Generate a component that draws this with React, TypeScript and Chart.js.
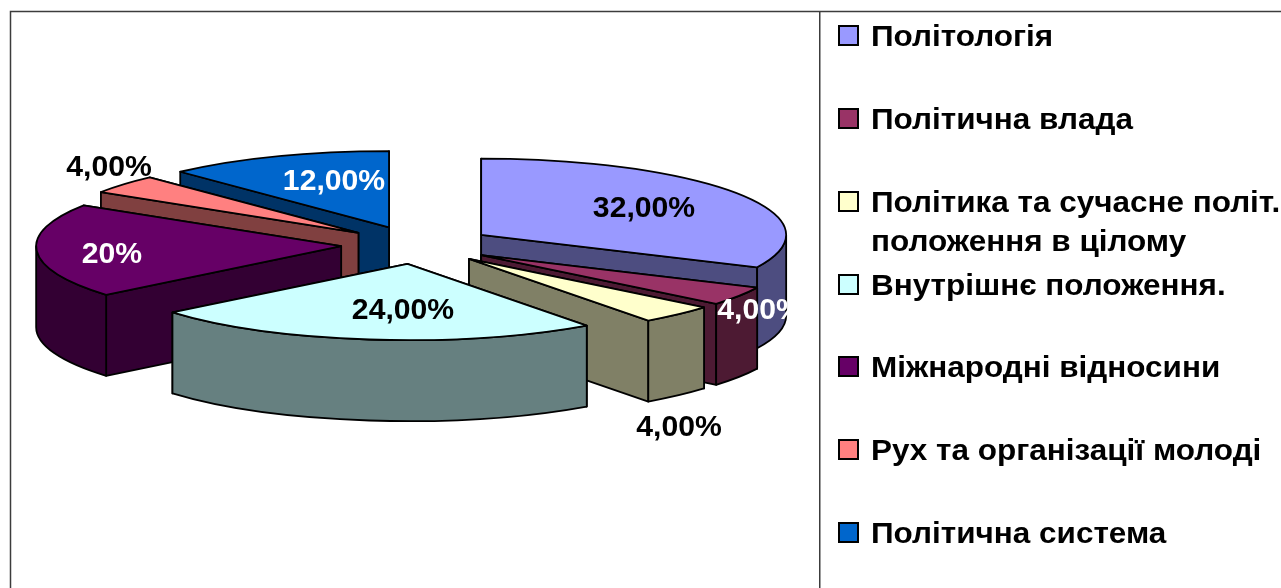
import React, { useEffect, useRef } from "react";
import { Chart, registerables } from "chart.js";

Chart.register(...registerables);

const categories = [
  "Політологія",
  "Політична влада",
  ["Політика та сучасне політ.", "положення в цілому"],
  "Внутрішнє положення.",
  "Міжнародні відносини",
  "Рух та організації молоді",
  "Політична система",
];
const values = [32, 4, 4, 24, 20, 4, 12];
const valueLabels = ["32,00%", "4,00%", "4,00%", "24,00%", "20%", "4,00%", "12,00%"];
const topColors = ["#9999FF", "#993366", "#FFFFCC", "#CCFFFF", "#660066", "#FF8080", "#0066CC"];
const wallColors = ["#4D4D80", "#4D1A33", "#808066", "#668080", "#330033", "#804040", "#003366"];
const labelColors = ["#000", "#fff", "#000", "#000", "#fff", "#000", "#fff"];

const W = 1281;
const H = 588;
const CX = 417;
const CY = 245;
const SQUASH = 0.25;
const RADIUS = 305;
const EXPLODE = 76;
const DEPTH = 81;
const FONT = 'bold 29px "Liberation Sans", Arial, sans-serif';
const LEGEND_STRETCH = 1.085;
const LABEL_STRETCH = 1.04;
const LABEL_CENTERS = [
  [644, 209],
  [760, 311],
  [679, 428],
  [403, 311],
  [112, 255],
  [109, 168],
  [334, 182],
];
const LABEL_CLIP_RIGHT = 789;

function stretchedText(ctx: any, text: string, x: number, y: number, sx: number) {
  ctx.save();
  ctx.translate(x, y);
  ctx.scale(sx, 1);
  ctx.fillText(text, 0, 0);
  ctx.restore();
}

const pie3d = {
  id: "pie3d",
  beforeDraw(chart: any) {
    const ctx = chart.ctx;
    ctx.save();
    ctx.fillStyle = "#fff";
    ctx.fillRect(0, 0, W, H);
    ctx.strokeStyle = "#3c3c3c";
    ctx.lineWidth = 1.5;
    ctx.beginPath();
    ctx.moveTo(10.5, H);
    ctx.lineTo(10.5, 11.5);
    ctx.lineTo(W, 11.5);
    ctx.moveTo(819.75, 11.5);
    ctx.lineTo(819.75, H);
    ctx.stroke();
    ctx.restore();
  },
  beforeDatasetsDraw(chart: any) {
    const ctx = chart.ctx;
    const arcs: any[] = chart.getDatasetMeta(0).data;
    const geo = arcs.map((arc, i) => {
      const mid = (arc.startAngle + arc.endAngle) / 2;
      const ax = CX + Math.cos(mid) * EXPLODE;
      const ay = CY + Math.sin(mid) * EXPLODE * SQUASH;
      return { arc, i, ax, ay, r: arc.outerRadius };
    });
    const order = [...geo].sort((a, b) => a.ay - b.ay);
    ctx.save();
    ctx.lineJoin = "round";
    ctx.strokeStyle = "#000";
    ctx.lineWidth = 1.8;
    for (const g of order) {
      const { arc, i, ax, ay, r } = g;
      const pt = (a: number) => [ax + r * Math.cos(a), ay + r * Math.sin(a) * SQUASH];
      ctx.fillStyle = wallColors[i];
      // radial faces, the one further back first
      const faces = [arc.startAngle, arc.endAngle].sort((p: number, q: number) => pt(p)[1] - pt(q)[1]);
      for (const a of faces) {
        const [px, py] = pt(a);
        ctx.beginPath();
        ctx.moveTo(ax, ay);
        ctx.lineTo(px, py);
        ctx.lineTo(px, py + DEPTH);
        ctx.lineTo(ax, ay + DEPTH);
        ctx.closePath();
        ctx.fill();
        ctx.stroke();
      }
      const a0 = Math.max(arc.startAngle, 0);
      const a1 = Math.min(arc.endAngle, Math.PI);
      if (a1 > a0) {
        ctx.beginPath();
        ctx.ellipse(ax, ay, r, r * SQUASH, 0, a0, a1);
        ctx.ellipse(ax, ay + DEPTH, r, r * SQUASH, 0, a1, a0, true);
        ctx.closePath();
        ctx.fill();
        ctx.stroke();
      }
      // top face, drawn by the library's own arc element
      ctx.save();
      ctx.translate(ax, ay);
      ctx.scale(1, SQUASH);
      ctx.translate(-arc.x, -arc.y);
      arc.draw(ctx);
      ctx.restore();
      // outline of the top face
      ctx.beginPath();
      ctx.moveTo(ax, ay);
      ctx.ellipse(ax, ay, r, r * SQUASH, 0, arc.startAngle, arc.endAngle);
      ctx.closePath();
      ctx.stroke();
    }
    ctx.restore();
    return false;
  },
  afterDraw(chart: any) {
    const ctx = chart.ctx;
    ctx.save();
    ctx.font = FONT;
    ctx.textBaseline = "middle";
    // value labels
    ctx.textAlign = "center";
    valueLabels.forEach((t, i) => {
      ctx.save();
      ctx.beginPath();
      ctx.rect(0, 0, LABEL_CLIP_RIGHT, H);
      ctx.clip();
      ctx.fillStyle = labelColors[i];
      stretchedText(ctx, t, LABEL_CENTERS[i][0], LABEL_CENTERS[i][1], LABEL_STRETCH);
      ctx.restore();
    });
    // legend
    ctx.textAlign = "left";
    const rowCenters = [36, 119, 202, 285, 367, 450, 533];
    categories.forEach((c, i) => {
      const y = rowCenters[i];
      ctx.fillStyle = topColors[i];
      ctx.strokeStyle = "#000";
      ctx.lineWidth = 2;
      ctx.fillRect(839, y - 10, 19, 19);
      ctx.strokeRect(839, y - 10, 19, 19);
      ctx.fillStyle = "#000";
      const lines = Array.isArray(c) ? c : [c];
      lines.forEach((l, k) => stretchedText(ctx, l, 871, y + 2 + k * 39, LEGEND_STRETCH));
    });
    ctx.restore();
  },
};

export default function App() {
  const ref = useRef<HTMLCanvasElement>(null);
  useEffect(() => {
    const chart = new Chart(ref.current!, {
      type: "pie",
      data: {
        labels: categories.map((c) => (Array.isArray(c) ? c.join(" ") : c)),
        datasets: [
          {
            data: values,
            backgroundColor: topColors,
            borderWidth: 0,
            radius: RADIUS,
          } as any,
        ],
      },
      options: {
        responsive: false,
        animation: false,
        devicePixelRatio: 1,
        layout: { padding: 0 },
        events: [],
        plugins: { legend: { display: false }, tooltip: { enabled: false } },
      },
      plugins: [pie3d as any],
    });
    return () => chart.destroy();
  }, []);
  return (
    <div style={{ position: "absolute", left: 0, top: 0, width: W, height: H, overflow: "hidden" }}>
      <canvas ref={ref} width={W} height={H} style={{ display: "block" }} />
    </div>
  );
}
